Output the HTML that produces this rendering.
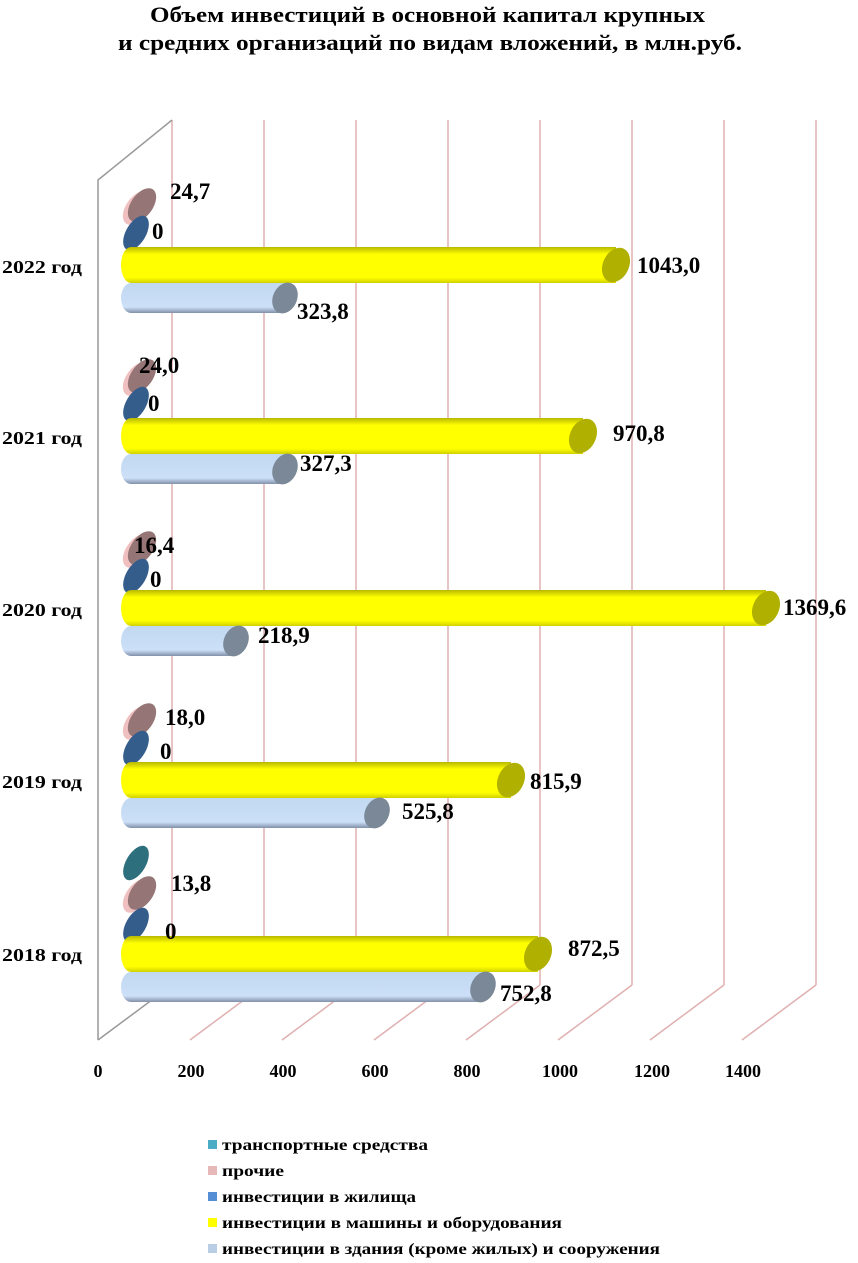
<!DOCTYPE html>
<html><head><meta charset="utf-8"><style>
body{margin:0;background:#fff;}
svg text{font-family:"Liberation Serif",serif;font-weight:bold;fill:#000;}
</style></head><body>
<svg width="858" height="1258" viewBox="0 0 858 1258" xmlns="http://www.w3.org/2000/svg">
<defs>
<linearGradient id="gy" x1="0" y1="0" x2="0" y2="1"><stop offset="0" stop-color="#b8b800"/><stop offset="0.2" stop-color="#ffff00"/><stop offset="0.85" stop-color="#ffff00"/><stop offset="1" stop-color="#d0d000"/></linearGradient>
<linearGradient id="gb" x1="0" y1="0" x2="0" y2="1"><stop offset="0" stop-color="#c0d8f0"/><stop offset="0.8" stop-color="#cce0f8"/><stop offset="1" stop-color="#8090a8"/></linearGradient>
</defs>
<text x="150" y="22" font-size="22" textLength="555" lengthAdjust="spacingAndGlyphs">Объем инвестиций в основной капитал крупных</text>
<text x="118" y="50" font-size="22" textLength="624" lengthAdjust="spacingAndGlyphs">и средних организаций по видам вложений, в млн.руб.</text>
<g stroke="#e0b0b0" stroke-width="1.5" fill="none">
<line x1="172" y1="120" x2="172" y2="985"/><line x1="264" y1="120" x2="264" y2="985"/><line x1="356" y1="120" x2="356" y2="985"/><line x1="448" y1="120" x2="448" y2="985"/><line x1="540" y1="120" x2="540" y2="985"/><line x1="632" y1="120" x2="632" y2="985"/><line x1="724" y1="120" x2="724" y2="985"/><line x1="816" y1="120" x2="816" y2="985"/>
<line x1="264" y1="985" x2="190" y2="1040"/><line x1="356" y1="985" x2="282" y2="1040"/><line x1="448" y1="985" x2="374" y2="1040"/><line x1="540" y1="985" x2="466" y2="1040"/><line x1="632" y1="985" x2="558" y2="1040"/><line x1="724" y1="985" x2="650" y2="1040"/><line x1="816" y1="985" x2="742" y2="1040"/>
</g>
<g stroke="#999" stroke-width="1.5" fill="none">
<polyline points="98,1040 98,180 172,120"/><line x1="98" y1="1040" x2="172" y2="985"/>
</g>
<g font-size="23">
<!-- 2022 -->
<ellipse cx="137" cy="208" rx="11" ry="19" transform="rotate(35 137 208)" fill="#f0c0c0"/><ellipse cx="142" cy="205" rx="11" ry="19" transform="rotate(35 142 205)" fill="#957575"/>
<ellipse cx="136" cy="233" rx="10" ry="19" transform="rotate(30 136 233)" fill="#345d8c"/>
<path d="M131,247 H616 V283 H131 A10,18 0 0 1 131,247Z" fill="url(#gy)"/><ellipse cx="616" cy="265" rx="13" ry="18" transform="rotate(25 616 265)" fill="#b0b000"/>
<path d="M131,283 H285 V313 H131 A10,15 0 0 1 131,283Z" fill="url(#gb)"/><ellipse cx="285" cy="298" rx="12" ry="16" transform="rotate(25 285 298)" fill="#7a8898"/>
<text x="170" y="199">24,7</text><text x="152" y="239">0</text><text x="637" y="273">1043,0</text><text x="297" y="319">323,8</text>
<text x="2" y="273" font-size="18" textLength="80" lengthAdjust="spacingAndGlyphs">2022 год</text>
<!-- 2021 -->
<ellipse cx="137" cy="379" rx="11" ry="19" transform="rotate(35 137 379)" fill="#f0c0c0"/><ellipse cx="142" cy="376" rx="11" ry="19" transform="rotate(35 142 376)" fill="#957575"/>
<ellipse cx="136" cy="404" rx="10" ry="19" transform="rotate(30 136 404)" fill="#345d8c"/>
<path d="M131,418 H583 V454 H131 A10,18 0 0 1 131,418Z" fill="url(#gy)"/><ellipse cx="583" cy="436" rx="13" ry="18" transform="rotate(25 583 436)" fill="#b0b000"/>
<path d="M131,454 H285 V484 H131 A10,15 0 0 1 131,454Z" fill="url(#gb)"/><ellipse cx="285" cy="469" rx="12" ry="16" transform="rotate(25 285 469)" fill="#7a8898"/>
<text x="139" y="373">24,0</text><text x="148" y="411">0</text><text x="613" y="441">970,8</text><text x="300" y="471">327,3</text>
<text x="2" y="444" font-size="18" textLength="80" lengthAdjust="spacingAndGlyphs">2021 год</text>
<!-- 2020 -->
<ellipse cx="137" cy="551" rx="11" ry="19" transform="rotate(35 137 551)" fill="#f0c0c0"/><ellipse cx="142" cy="548" rx="11" ry="19" transform="rotate(35 142 548)" fill="#957575"/>
<ellipse cx="136" cy="576" rx="10" ry="19" transform="rotate(30 136 576)" fill="#345d8c"/>
<path d="M131,590 H766 V626 H131 A10,18 0 0 1 131,590Z" fill="url(#gy)"/><ellipse cx="766" cy="608" rx="13" ry="18" transform="rotate(25 766 608)" fill="#b0b000"/>
<path d="M131,626 H236 V656 H131 A10,15 0 0 1 131,626Z" fill="url(#gb)"/><ellipse cx="236" cy="641" rx="12" ry="16" transform="rotate(25 236 641)" fill="#7a8898"/>
<text x="134" y="553">16,4</text><text x="150" y="587">0</text><text x="783" y="615">1369,6</text><text x="258" y="643">218,9</text>
<text x="2" y="616" font-size="18" textLength="80" lengthAdjust="spacingAndGlyphs">2020 год</text>
<!-- 2019 -->
<ellipse cx="137" cy="723" rx="11" ry="19" transform="rotate(35 137 723)" fill="#f0c0c0"/><ellipse cx="142" cy="720" rx="11" ry="19" transform="rotate(35 142 720)" fill="#957575"/>
<ellipse cx="136" cy="748" rx="10" ry="19" transform="rotate(30 136 748)" fill="#345d8c"/>
<path d="M131,762 H511 V798 H131 A10,18 0 0 1 131,762Z" fill="url(#gy)"/><ellipse cx="511" cy="780" rx="13" ry="18" transform="rotate(25 511 780)" fill="#b0b000"/>
<path d="M131,798 H377 V828 H131 A10,15 0 0 1 131,798Z" fill="url(#gb)"/><ellipse cx="377" cy="813" rx="12" ry="16" transform="rotate(25 377 813)" fill="#7a8898"/>
<text x="165" y="725">18,0</text><text x="160" y="759">0</text><text x="530" y="789">815,9</text><text x="402" y="819">525,8</text>
<text x="2" y="788" font-size="18" textLength="80" lengthAdjust="spacingAndGlyphs">2019 год</text>
<!-- 2018 -->
<ellipse cx="136" cy="863" rx="10" ry="19" transform="rotate(30 136 863)" fill="#2e6f7e"/>
<ellipse cx="137" cy="896" rx="11" ry="19" transform="rotate(35 137 896)" fill="#f0c0c0"/><ellipse cx="142" cy="893" rx="11" ry="19" transform="rotate(35 142 893)" fill="#957575"/>
<ellipse cx="136" cy="925" rx="10" ry="19" transform="rotate(30 136 925)" fill="#345d8c"/>
<path d="M131,936 H538 V972 H131 A10,18 0 0 1 131,936Z" fill="url(#gy)"/><ellipse cx="538" cy="954" rx="13" ry="18" transform="rotate(25 538 954)" fill="#b0b000"/>
<path d="M131,972 H483 V1002 H131 A10,15 0 0 1 131,972Z" fill="url(#gb)"/><ellipse cx="483" cy="987" rx="12" ry="16" transform="rotate(25 483 987)" fill="#7a8898"/>
<text x="171" y="891">13,8</text><text x="165" y="939">0</text><text x="568" y="956">872,5</text><text x="500" y="1001">752,8</text>
<text x="2" y="961" font-size="18" textLength="80" lengthAdjust="spacingAndGlyphs">2018 год</text>
</g>
<g font-size="18" text-anchor="middle">
<text x="98" y="1077">0</text><text x="191" y="1077">200</text><text x="283" y="1077">400</text><text x="375" y="1077">600</text><text x="467" y="1077">800</text><text x="560" y="1077">1000</text><text x="652" y="1077">1200</text><text x="743" y="1077">1400</text>
</g>
<g font-size="16">
<rect x="208" y="1140" width="9" height="9" fill="#4bacc6"/><text x="222" y="1150" textLength="206" lengthAdjust="spacingAndGlyphs">транспортные средства</text>
<rect x="208" y="1166" width="9" height="9" fill="#e6b9b8"/><text x="222" y="1176" textLength="62" lengthAdjust="spacingAndGlyphs">прочие</text>
<rect x="208" y="1192" width="9" height="9" fill="#558ed5"/><text x="222" y="1202" textLength="194" lengthAdjust="spacingAndGlyphs">инвестиции в жилища</text>
<rect x="208" y="1218" width="9" height="9" fill="#ffff00"/><text x="222" y="1228" textLength="340" lengthAdjust="spacingAndGlyphs">инвестиции в машины и оборудования</text>
<rect x="208" y="1244" width="9" height="9" fill="#b9cde5"/><text x="222" y="1254" textLength="438" lengthAdjust="spacingAndGlyphs">инвестиции в здания (кроме жилых) и сооружения</text>
</g>
</svg>
</body></html>
